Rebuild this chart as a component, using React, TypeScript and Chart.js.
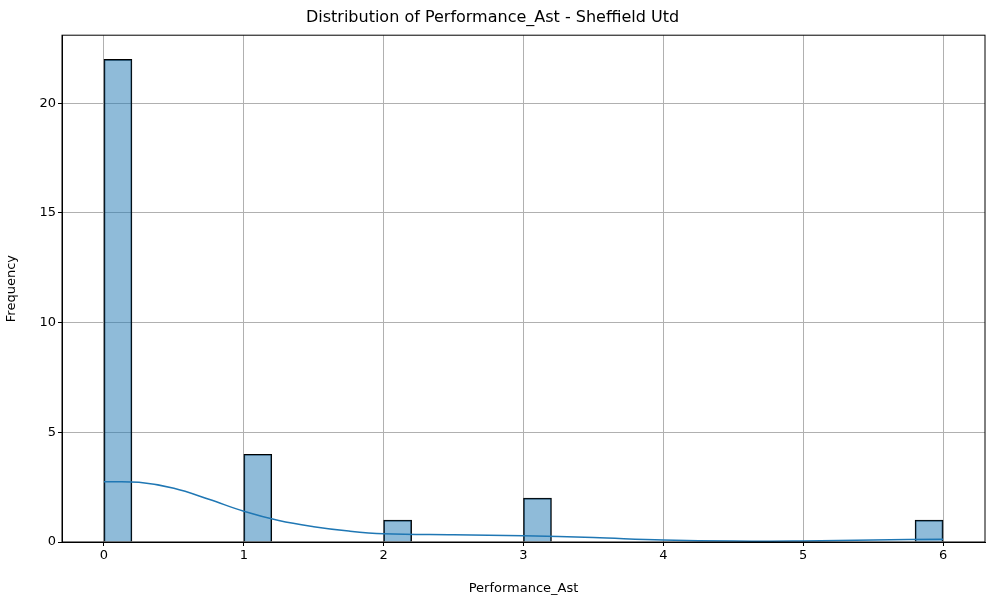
import Chart from 'chart.js/auto';
import { useEffect, useRef } from 'react';

// histogram bins (width 0.2), only non-empty ones
const binCenters = [0.1, 1.1, 2.1, 3.1, 5.9];
const binCounts = [22, 4, 1, 2, 1];
// KDE curve
const kdeX = [0, 0.25, 0.5, 0.75, 1, 1.25, 1.5, 1.75, 2, 2.5, 3, 3.5, 4, 4.5, 5, 5.5, 6];
const kdeY = [2.75, 2.72, 2.45, 1.95, 1.4, 0.98, 0.7, 0.5, 0.38, 0.33, 0.29, 0.2, 0.09, 0.04, 0.05, 0.09, 0.13];

const frame = {
  id: 'frame',
  afterDraw(chart: Chart) {
    const { ctx, chartArea: a } = chart;
    ctx.save();
    ctx.strokeStyle = '#000';
    ctx.lineWidth = 1;
    ctx.strokeRect(a.left, a.top, a.right - a.left, a.bottom - a.top);
    ctx.restore();
  },
};

const App = () => {
  const ref = useRef<HTMLCanvasElement>(null);
  useEffect(() => {
    document.body.style.margin = '0';
    if (!ref.current) return;
    const font = { family: 'DejaVu Sans', size: 13 };
    const chart = new Chart(ref.current, {
      type: 'bar',
      data: {
        datasets: [
          {
            type: 'line',
            data: kdeX.map((x, i) => ({ x, y: kdeY[i] })),
            borderColor: '#1f77b4',
            borderWidth: 1.5,
            pointRadius: 0,
            tension: 0.4,
          },
          {
            type: 'bar',
            data: binCenters.map((x, i) => ({ x, y: binCounts[i] })),
            backgroundColor: 'rgba(31,119,180,0.5)',
            borderColor: '#000',
            borderWidth: 1,
            barThickness: 28,
          },
        ],
      },
      options: {
        animation: false,
        responsive: false,
        layout: { padding: { left: 0, right: 15, top: 0, bottom: 0 } },
        plugins: {
          legend: { display: false },
          tooltip: { enabled: false },
          title: {
            display: true,
            text: 'Distribution of Performance_Ast - Sheffield Utd',
            color: '#000',
            font: { family: 'DejaVu Sans', size: 16, weight: 'normal' },
            padding: { top: 8, bottom: 8 },
          },
        },
        scales: {
          x: {
            type: 'linear',
            min: -0.3,
            max: 6.3,
            offset: false,
            afterBuildTicks: (s: any) => {
              s.ticks = [0, 1, 2, 3, 4, 5, 6].map(v => ({ value: v }));
            },
            afterFit: (s: any) => { s.height = 58; },
            ticks: { color: '#000', font, padding: 2 },
            grid: { color: '#b0b0b0', tickColor: '#000', tickLength: 4, offset: false },
            border: { color: '#000' },
            title: { display: true, text: 'Performance_Ast', color: '#000', font, padding: { top: 4 } },
          },
          y: {
            min: 0,
            max: 23.1,
            afterBuildTicks: (s: any) => {
              s.ticks = [0, 5, 10, 15, 20].map(v => ({ value: v }));
            },
            afterFit: (s: any) => { s.width = 62; },
            ticks: { color: '#000', font, padding: 2 },
            grid: { color: '#b0b0b0', tickColor: '#000', tickLength: 4 },
            border: { color: '#000' },
            title: { display: true, text: 'Frequency', color: '#000', font, padding: { bottom: 2 } },
          },
        },
      },
      plugins: [frame],
    } as any);
    return () => chart.destroy();
  }, []);
  return <canvas ref={ref} width={1000} height={600} style={{ display: 'block' }} />;
};

export default App;
